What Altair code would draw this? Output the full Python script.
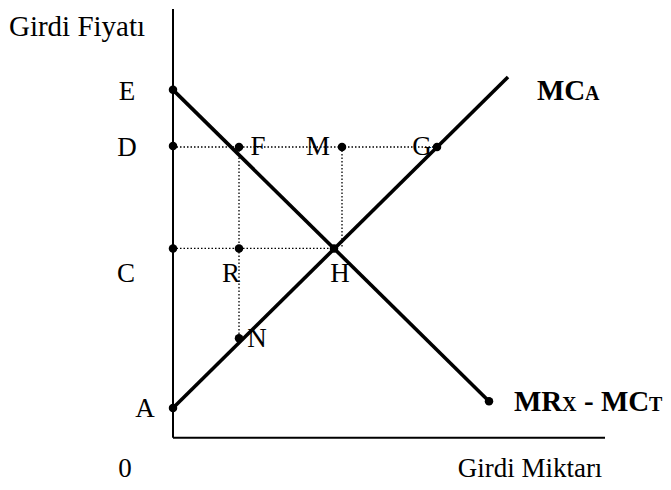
import altair as alt
import pandas as pd

# ---- data (units: input quantity on x, input price on y) ----
point_names = ["E", "D", "C", "A", "F", "M", "G", "H", "R", "N", "Z"]
point_x = [0, 0, 0, 0, 66, 169, 264, 161, 66, 66, 316]
point_y = [353, 296, 192, 30, 295, 295, 295, 192, 192, 101, 37]

# solid curves: MRx - MCT (demand side) and MCA (supply side)
curve_names = ["MRx - MCT", "MCA"]
curve_x1 = [0, 0]
curve_y1 = [353, 30]
curve_x2 = [316, 335]
curve_y2 = [37, 366]

# axes
axis_x1 = [0, 0]
axis_y1 = [0, 435]
axis_x2 = [432, 0]
axis_y2 = [0, 0]

# dotted guide lines
dot_x1 = [0, 0, 66, 169]
dot_y1 = [295, 192, 295, 295]
dot_x2 = [264, 161, 66, 169]
dot_y2 = [295, 192, 101, 192]

# point labels (baseline positions)
label_text = ["E", "D", "C", "A", "F", "M", "G", "R", "H", "N", "0", "Girdi Miktarı", "Girdi Fiyatı"]
label_x = [-46, -46, -47, -28, 85, 145, 249, 58, 167, 84, -48, 357, -96]
label_y = [343, 286, 158, 21, 287, 287, 287, 158, 158, 92, -40, -40, 408]
label_size = [27, 27, 27, 27, 27, 27, 27, 27, 27, 27, 27, 27, 29]

# curve labels (bold, with small capitals)
bold_text = ["MC", "A", "MR", "X", "- MC", "T"]
bold_x = [364, 412, 341, 389, 411, 476]
bold_y = [343, 343, 27, 27, 27, 27]
bold_size = [29, 20, 29, 20, 29, 20]

# ---- tables ----
pts = pd.DataFrame({"name": point_names, "x": point_x, "y": point_y})
curves = pd.DataFrame({"name": curve_names, "x": curve_x1, "y": curve_y1, "x2": curve_x2, "y2": curve_y2})
axes = pd.DataFrame({"x": axis_x1, "y": axis_y1, "x2": axis_x2, "y2": axis_y2})
dots = pd.DataFrame({"x": dot_x1, "y": dot_y1, "x2": dot_x2, "y2": dot_y2})
labels = pd.DataFrame({"t": label_text, "x": label_x, "y": label_y, "s": label_size})
blabels = pd.DataFrame({"t": bold_text, "x": bold_x, "y": bold_y, "s": bold_size})

X = alt.X("x:Q", scale=alt.Scale(domain=[-165, 490], nice=False, zero=False), axis=None)
Y = alt.Y("y:Q", scale=alt.Scale(domain=[-43, 431], nice=False, zero=False), axis=None)

axis_layer = alt.Chart(axes).mark_rule(color="black", strokeWidth=2).encode(
    x=X, y=Y, x2="x2:Q", y2="y2:Q")
dot_layer = alt.Chart(dots).mark_rule(color="black", strokeWidth=1.3, strokeDash=[1.5, 2]).encode(
    x=X, y=Y, x2="x2:Q", y2="y2:Q")
curve_layer = alt.Chart(curves).mark_rule(color="black", strokeWidth=3.6).encode(
    x=X, y=Y, x2="x2:Q", y2="y2:Q")
point_layer = alt.Chart(pts).mark_circle(color="black", opacity=1, size=72).encode(x=X, y=Y)
label_layer = alt.Chart(labels).mark_text(
    font="Liberation Serif", color="black", align="center", baseline="alphabetic"
).encode(x=X, y=Y, text="t:N", size=alt.Size("s:Q", scale=None, legend=None))
bold_layer = alt.Chart(blabels).mark_text(
    font="Liberation Serif", fontWeight="bold", color="black", align="left", baseline="alphabetic"
).encode(x=X, y=Y, text="t:N", size=alt.Size("s:Q", scale=None, legend=None))

chart = alt.layer(
    axis_layer, dot_layer, curve_layer, point_layer, label_layer, bold_layer
).properties(
    width=655, height=474,
    autosize=alt.AutoSizeParams(type="fit", contains="padding"),
    padding=0,
).configure_view(stroke=None)

chart.save("out.html", embed_options={"renderer": "svg", "actions": False})
